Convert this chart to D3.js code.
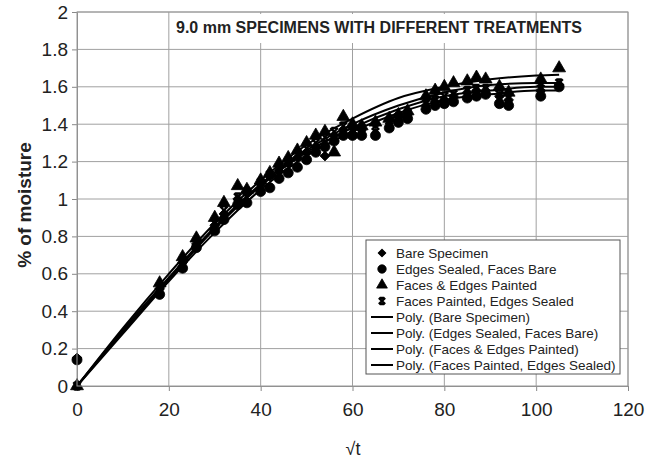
<!DOCTYPE html>
<html>
<head>
<meta charset="utf-8">
<script src="https://cdn.jsdelivr.net/npm/d3@7"></script>
<style>
  body { margin: 0; background: #fff; }
  text { font-family: "Liberation Sans", Arial, sans-serif; fill: #222; }
</style>
</head>
<body>
<div id="chart"></div>
<script>
// sqrt(t) readings shared by the four specimens
const xs = [0, 18, 23, 26, 30, 32, 35, 37, 40, 42, 44, 46, 48, 50, 52, 54, 56, 58, 60, 62, 65, 68, 70, 72, 76, 78, 80, 82, 85, 87, 89, 92, 94, 101, 105]

const bare = [0.15, 0.52, 0.66, 0.76, 0.86, 0.92, 1.00, 1.03, 1.08, 1.12, 1.15, 1.19, 1.22, 1.25, 1.28, 1.23, 1.34, 1.37, 1.38, 1.37, 1.40, 1.42, 1.44, 1.45, 1.50, 1.52, 1.53, 1.55, 1.57, 1.58, 1.58, 1.55, 1.53, 1.58, 1.61]
const edgesSealed = [0.14, 0.49, 0.63, 0.74, 0.83, 0.89, 0.97, 0.98, 1.04, 1.06, 1.11, 1.14, 1.17, 1.21, 1.25, 1.28, 1.31, 1.34, 1.34, 1.34, 1.34, 1.38, 1.41, 1.43, 1.48, 1.50, 1.51, 1.52, 1.54, 1.55, 1.56, 1.51, 1.50, 1.55, 1.60]
const facesEdgesPainted = [0, 0.55, 0.69, 0.79, 0.90, 0.98, 1.07, 1.05, 1.10, 1.14, 1.19, 1.22, 1.26, 1.30, 1.34, 1.36, 1.25, 1.44, 1.40, 1.39, 1.41, 1.43, 1.45, 1.47, 1.55, 1.58, 1.60, 1.62, 1.63, 1.65, 1.64, 1.60, 1.57, 1.64, 1.70]
const facesPainted = [0, 0.53, 0.67, 0.77, 0.87, 0.94, 1.01, 1.04, 1.09, 1.13, 1.17, 1.20, 1.24, 1.27, 1.30, 1.33, 1.36, 1.39, 1.37, 1.38, 1.39, 1.42, 1.44, 1.46, 1.51, 1.53, 1.55, 1.56, 1.58, 1.59, 1.59, 1.56, 1.54, 1.59, 1.62]

// polynomial trend lines
const trendX = [0, 10, 20, 30, 40, 50, 60, 70, 80, 90, 100, 105]
const trendBare = [0, 0.30, 0.58, 0.85, 1.08, 1.26, 1.40, 1.50, 1.57, 1.61, 1.62, 1.62]
const trendEdges = [0, 0.28, 0.56, 0.82, 1.05, 1.23, 1.36, 1.46, 1.53, 1.56, 1.58, 1.58]
const trendFacesEdges = [0, 0.31, 0.60, 0.87, 1.10, 1.29, 1.43, 1.54, 1.60, 1.64, 1.66, 1.665]
const trendFaces = [0, 0.29, 0.57, 0.84, 1.07, 1.25, 1.38, 1.48, 1.55, 1.58, 1.60, 1.60]

const xTicks = [0, 20, 40, 60, 80, 100, 120]
const yTicks = [0, 0.2, 0.4, 0.6, 0.8, 1, 1.2, 1.4, 1.6, 1.8, 2]

const seriesNames = ["Bare Specimen", "Edges Sealed, Faces Bare", "Faces & Edges Painted", "Faces Painted, Edges Sealed"]

let dimensions = {
    width: 661,
    height: 459,
    left: 77,
    right: 628,
    top: 12,
    bottom: 386,
}

const svg = d3.select('#chart')
    .append("svg")
    .attr("width", dimensions.width)
    .attr("height", dimensions.height)

const x = d3.scaleLinear().domain([0, 120]).range([dimensions.left, dimensions.right])
const y = d3.scaleLinear().domain([0, 2]).range([dimensions.bottom, dimensions.top])

// grid
svg.append("g").selectAll("line.v")
    .data(xTicks.slice(1))
    .join("line")
    .attr("x1", d => x(d)).attr("x2", d => x(d))
    .attr("y1", dimensions.top).attr("y2", dimensions.bottom)
    .attr("stroke", "#a0a0a0")
svg.append("g").selectAll("line.h")
    .data(yTicks.slice(1))
    .join("line")
    .attr("x1", dimensions.left).attr("x2", dimensions.right)
    .attr("y1", d => y(d)).attr("y2", d => y(d))
    .attr("stroke", "#a0a0a0")

// axes
const yAxis = svg.append("g")
    .attr("transform", `translate(${dimensions.left},0)`)
    .call(d3.axisLeft(y).tickValues(yTicks).tickFormat(d3.format("~g")).tickSize(5).tickPadding(4))
const xAxis = svg.append("g")
    .attr("transform", `translate(0,${dimensions.bottom})`)
    .call(d3.axisBottom(x).tickValues(xTicks).tickSize(5).tickPadding(12))
for (const ax of [xAxis, yAxis]) {
    ax.select(".domain").attr("stroke", "#888")
    ax.selectAll(".tick line").attr("stroke", "#888")
    ax.selectAll(".tick text").attr("font-size", 19).attr("fill", "#222")
        .attr("font-family", '"Liberation Sans", Arial, sans-serif')
}

// title with white box behind it
svg.append("rect")
    .attr("x", 171).attr("y", 14)
    .attr("width", 363).attr("height", 29)
    .attr("fill", "#fff")
svg.append("text")
    .attr("x", 379).attr("y", 33)
    .attr("text-anchor", "middle")
    .attr("font-size", 16)
    .attr("font-weight", "bold")
    .text("9.0 mm SPECIMENS WITH DIFFERENT TREATMENTS")

// axis labels
svg.append("text")
    .attr("transform", "translate(31,205) rotate(-90)")
    .attr("text-anchor", "middle")
    .attr("font-size", 19)
    .attr("font-weight", "bold")
    .text("% of moisture")
svg.append("text")
    .attr("x", 353).attr("y", 455)
    .attr("text-anchor", "middle")
    .attr("font-size", 18)
    .text("√t")

// trend lines
const line = d3.line()
    .x(d => x(d[0]))
    .y(d => y(d[1]))
    .curve(d3.curveMonotoneX)
const trends = [trendBare, trendEdges, trendFacesEdges, trendFaces]
svg.append("g").selectAll("path")
    .data(trends)
    .join("path")
    .attr("d", t => line(trendX.map((v, i) => [v, t[i]])))
    .attr("fill", "none")
    .attr("stroke", "#000")
    .attr("stroke-width", 2)

// markers
const symX = {
    draw(ctx, size) {
        const r = Math.sqrt(size) / 2
        ctx.moveTo(-r, -r); ctx.lineTo(r, r)
        ctx.moveTo(r, -r); ctx.lineTo(-r, r)
        ctx.moveTo(-r * 0.7, -r); ctx.lineTo(r * 0.7, -r)
        ctx.moveTo(-r * 0.7, r); ctx.lineTo(r * 0.7, r)
    }
}
const markerStyles = [
    { type: d3.symbolSquare, size: 48, rotate: 45, fill: true },
    { type: d3.symbolCircle, size: 80, rotate: 0, fill: true },
    { type: d3.symbolTriangle, size: 72, rotate: 0, fill: true },
    { type: symX, size: 56, rotate: 0, fill: false },
]
const series = [bare, edgesSealed, facesEdgesPainted, facesPainted]

function drawMarker(sel, st) {
    sel.attr("d", d3.symbol().type(st.type).size(st.size)())
        .attr("fill", st.fill ? "#000" : "none")
        .attr("stroke", "#000")
        .attr("stroke-width", st.fill ? 0.8 : 2.2)
}

series.forEach((s, k) => {
    const st = markerStyles[k]
    svg.append("g").selectAll("path")
        .data(xs.map((v, i) => [v, s[i]]))
        .join("path")
        .attr("transform", d => `translate(${x(d[0])},${y(d[1])}) rotate(${st.rotate})`)
        .call(drawMarker, st)
})

// frame
svg.append("rect")
    .attr("x", dimensions.left).attr("y", dimensions.top)
    .attr("width", dimensions.right - dimensions.left)
    .attr("height", dimensions.bottom - dimensions.top)
    .attr("fill", "none")
    .attr("stroke", "#999")

// legend
const legend = svg.append("g")
legend.append("rect")
    .attr("x", 366).attr("y", 240)
    .attr("width", 254).attr("height", 134)
    .attr("fill", "#fff")
    .attr("stroke", "#555")
const rowY = i => 253 + i * 16
seriesNames.forEach((name, i) => {
    const st = markerStyles[i]
    legend.append("path")
        .attr("transform", `translate(382,${rowY(i)}) rotate(${st.rotate})`)
        .call(drawMarker, { ...st, size: st.size * 0.7 })
    legend.append("text")
        .attr("x", 396).attr("y", rowY(i) + 5)
        .attr("font-size", 13.5)
        .text(name)
})
seriesNames.forEach((name, i) => {
    const yy = rowY(i + 4)
    legend.append("line")
        .attr("x1", 371).attr("x2", 393)
        .attr("y1", yy).attr("y2", yy)
        .attr("stroke", "#000").attr("stroke-width", 2)
    legend.append("text")
        .attr("x", 396).attr("y", yy + 5)
        .attr("font-size", 13.5)
        .text(`Poly. (${name})`)
})
</script>
</body>
</html>
